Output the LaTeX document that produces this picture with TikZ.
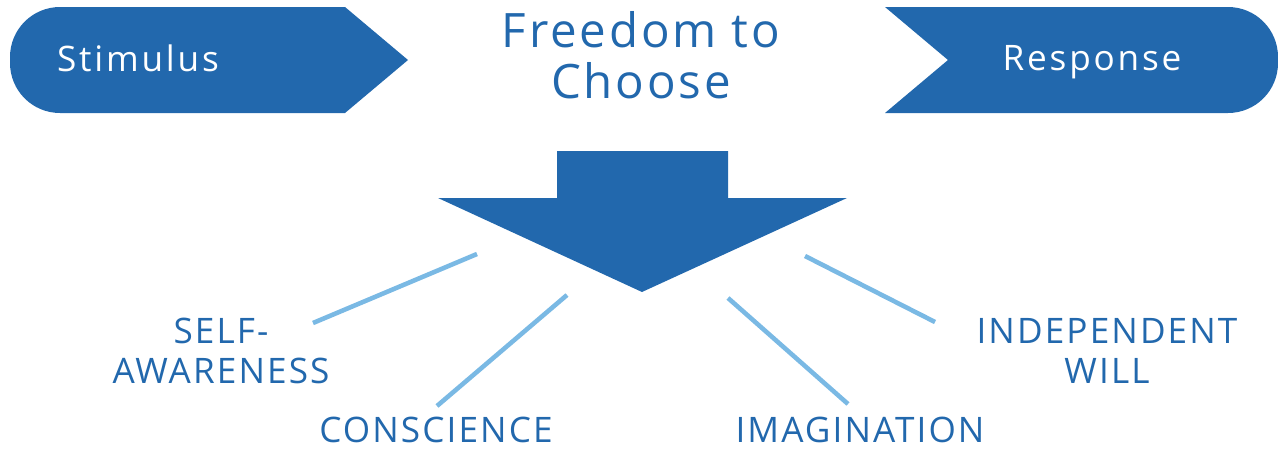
\documentclass[tikz,border=0pt]{standalone}
\usepackage{fontspec}
\setmainfont{Open Sans}
\usepackage{tikz}
\usetikzlibrary{positioning,calc}
\definecolor{cvblue}{RGB}{34,104,173}
\definecolor{cvlight}{RGB}{122,185,228}

\begin{document}
\begin{tikzpicture}[x=0.02cm, y=-0.02cm,
    banner/.style={fill=cvblue},
    bannertext/.style={text=white, anchor=base, font=\fontsize{20}{22}\selectfont\addfontfeatures{LetterSpace=8}},
    title/.style={text=cvblue, align=center, font=\fontsize{27}{29}\selectfont\addfontfeatures{LetterSpace=6}},
    trait/.style={text=cvblue, font=\fontsize{20}{23}\selectfont\addfontfeatures{LetterSpace=6}},
    ray/.style={cvlight, line width=2.6pt}
]
    \useasboundingbox (0,0) rectangle (1278,453);

    % Banners
    \fill[banner] (408,60) -- (345,7) [rounded corners=1cm] -- (10,7) -- (10,113) [sharp corners] -- (345,113) -- cycle;
    \fill[banner] (948,60) -- (885,7) [rounded corners=1cm] -- (1278,7) -- (1278,113) [sharp corners] -- (885,113) -- cycle;
    \node[bannertext] (stim) at (138,71) {Stimulus};
    \node[bannertext] (resp) at (1092,70) {Response};
    \node[title] (free) at (641,55) {Freedom to\\Choose};

    % Big arrow
    \fill[banner] (557,151) -- (728,151) -- (728,198) -- (847,198) -- (642,292)
        -- (438,198) -- (557,198) -- cycle;

    % Traits
    \node[trait, align=center] (self) at (221,351) {SELF-\\AWARENESS};
    \node[trait, anchor=base, inner sep=1pt] (consc) at (436,442) {CONSCIENCE};
    \node[trait, anchor=base, inner sep=1pt] (imag) at (860,442) {IMAGINATION};
    \node[trait, align=center] (indep) at (1107,351) {INDEPENDENT\\WILL};

    \coordinate (r1a) at (477,254); \coordinate (r1b) at (313,323);
    \coordinate (r2a) at (567,295); \coordinate (r2b) at (437,406);
    \coordinate (r3a) at (728,298); \coordinate (r3b) at (848,404);
    \coordinate (r4a) at (805,256); \coordinate (r4b) at (935,322);
    \foreach \i in {1,...,4}
        \draw[ray] (r\i a) -- (r\i b);
\end{tikzpicture}
\end{document}
